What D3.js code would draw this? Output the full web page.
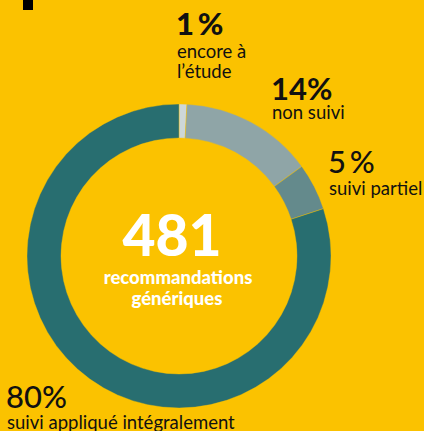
<!DOCTYPE html>
<meta charset="utf-8">
<script src="https://d3js.org/d3.v7.min.js"></script>
<style>
body { margin: 0; background: #FBC200; }
svg { display: block; font-family: 'Lato', sans-serif; }
</style>
<body>
<svg width="424" height="431"></svg>
<script>
// slices, clockwise from the top
const categories = ['encore à l’étude', 'non suivi', 'suivi partiel', 'suivi appliqué intégralement'];
const counts = [4, 68, 24, 385];
const pctLabels = ['1\u2009%', '14%', '5\u2009%', '80%'];
const colors = ['#CDD7D8', '#8FA5A7', '#648A8C', '#286E70'];
const total = 481;

const svg = d3.select('svg');
const cx = 179, cy = 256, R = 152, r = 118;

// bit of a letter cut off at the top
svg.append('rect').attr('x', 23).attr('y', 0).attr('width', 10).attr('height', 10).attr('fill', '#000');

const pie = d3.pie().sort(null).value(d => d);
const arc = d3.arc().innerRadius(r).outerRadius(R);

const g = svg.append('g').attr('transform', `translate(${cx},${cy})`);
g.selectAll('path')
    .data(pie(counts))
    .enter().append('path')
    .attr('d', arc)
    .attr('fill', (d, i) => colors[i])
    .attr('stroke', '#FBC200')
    .attr('stroke-width', 0.4);

// centre
g.append('text').attr('x', -7).attr('y', 0)
    .attr('text-anchor', 'middle').attr('fill', '#fff')
    .attr('font-weight', 900).attr('font-size', 57)
    .text(total);
g.append('text').attr('x', -1).attr('y', 28)
    .attr('text-anchor', 'middle').attr('fill', '#fff')
    .attr('font-weight', 900).attr('font-size', 18.5)
    .text('recommandations');
g.append('text').attr('x', -2).attr('y', 49)
    .attr('text-anchor', 'middle').attr('fill', '#fff')
    .attr('font-weight', 900).attr('font-size', 18.5)
    .text('génériques');

// label placement: x, baseline of the %, gap to first line, weight
const labelPos = [
    {x: 176, y: 35, dy: 23, w: 900, lines: ['encore à', 'l’étude']},
    {x: 271, y: 100, dy: 19, w: 700, lines: ['non suivi']},
    {x: 328, y: 173, dy: 22, w: 500, lines: ['suivi partiel']},
    {x: 6, y: 408, dy: 21, w: 500, lines: ['suivi appliqué intégralement']}
];

labelPos.forEach((p, i) => {
    svg.append('text').attr('x', p.x).attr('y', p.y)
        .attr('font-weight', p.w).attr('font-size', 31).attr('fill', '#111')
        .text(pctLabels[i]);
    p.lines.forEach((l, j) => {
        svg.append('text').attr('x', p.x + 1).attr('y', p.y + p.dy + j * 20)
            .attr('font-size', 18.5).attr('fill', '#111')
            .text(l);
    });
});
</script>
</body>
